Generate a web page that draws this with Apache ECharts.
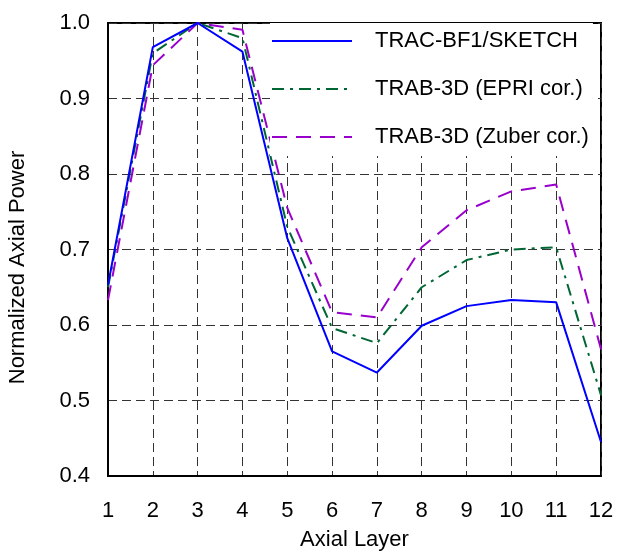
<!DOCTYPE html>
<html>
<head>
    <meta charset="UTF-8">
    <title>Axial power</title>
    <script src="https://cdn.jsdelivr.net/npm/echarts@6/dist/echarts.min.js"></script>
    <style>
        * { margin: 0; padding: 0; }
        body { background: #fff; }
        #chart { width: 617px; height: 553px; }
    </style>
</head>
<body>
    <div id="chart"></div>
<script>
    var layers = ['1', '2', '3', '4', '5', '6', '7', '8', '9', '10', '11', '12'];
    var tracSketch = [0.653, 0.968, 1.000, 0.962, 0.715, 0.565, 0.537, 0.599, 0.625, 0.633, 0.630, 0.445];
    var trabEpri = [0.650, 0.960, 1.000, 0.980, 0.730, 0.596, 0.576, 0.650, 0.686, 0.700, 0.703, 0.507];
    var trabZuber = [0.633, 0.944, 1.000, 0.991, 0.755, 0.617, 0.610, 0.703, 0.752, 0.777, 0.786, 0.568];

    var font = 'Liberation Sans, Arial, sans-serif';
    var gridDash = { color: '#333', width: 1, type: [9, 5] };

    var chart = echarts.init(document.getElementById('chart'));
    var option = {
        animation: false,
        textStyle: { fontFamily: font },
        grid: {
            left: 108, right: 16, top: 23, bottom: 77,
            outerBoundsMode: 'none',
            show: true, borderColor: '#000', borderWidth: 2
        },
        legend: {
            orient: 'vertical',
            left: 270, top: 23,
            padding: [5, 4, 6, 1],
            backgroundColor: '#fff',
            itemWidth: 80, itemHeight: 14, itemGap: 22,
            z: 10,
            itemStyle: { opacity: 0 },
            textStyle: { fontSize: 22, lineHeight: 26, color: '#000', fontFamily: font, padding: [0, 0, 0, 18] },
            data: ['TRAC-BF1/SKETCH', 'TRAB-3D (EPRI cor.)', 'TRAB-3D (Zuber cor.)']
        },
        xAxis: {
            type: 'category',
            data: layers,
            boundaryGap: false,
            name: 'Axial Layer',
            nameLocation: 'middle',
            nameGap: 53,
            nameTextStyle: { fontSize: 22, color: '#000', fontFamily: font },
            axisLine: { lineStyle: { color: '#000', width: 2 } },
            axisTick: { show: false },
            axisLabel: { fontSize: 22, color: '#000', margin: 24, fontFamily: font },
            splitLine: { show: true, lineStyle: gridDash }
        },
        yAxis: {
            type: 'value',
            min: 0.4, max: 1.0, interval: 0.1,
            name: 'Normalized Axial Power',
            nameLocation: 'middle',
            nameGap: 79,
            nameTextStyle: { fontSize: 22, color: '#000', fontFamily: font, padding: [0, 36, 0, 0] },
            axisLine: { show: true, lineStyle: { color: '#000', width: 2 } },
            axisTick: { show: false },
            axisLabel: {
                fontSize: 22, color: '#000', margin: 18, fontFamily: font,
                formatter: function (v) { return v.toFixed(1); }
            },
            splitLine: { show: true, lineStyle: gridDash }
        },
        series: [
            {
                name: 'TRAC-BF1/SKETCH', type: 'line', data: tracSketch,
                symbol: 'none', z: 5,
                lineStyle: { color: '#0000ff', width: 2, type: 'solid' },
                itemStyle: { color: '#0000ff' }
            },
            {
                name: 'TRAB-3D (EPRI cor.)', type: 'line', data: trabEpri,
                symbol: 'none', z: 4,
                lineStyle: { color: '#006633', width: 2, type: [12, 6, 3, 6] },
                itemStyle: { color: '#006633' }
            },
            {
                name: 'TRAB-3D (Zuber cor.)', type: 'line', data: trabZuber,
                symbol: 'none', z: 3,
                lineStyle: { color: '#9900cc', width: 2, type: [15, 9] },
                itemStyle: { color: '#9900cc' }
            }
        ]
    };
    chart.setOption(option);
</script>
</body>
</html>
